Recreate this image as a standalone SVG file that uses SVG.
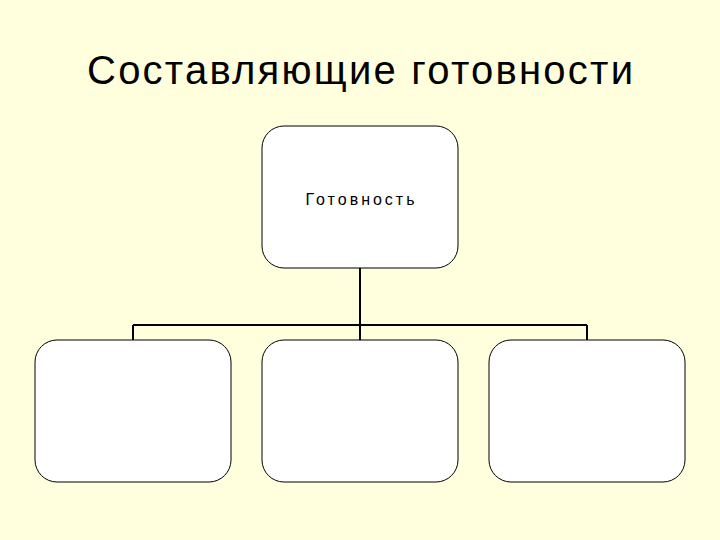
<svg xmlns="http://www.w3.org/2000/svg" width="720" height="540" viewBox="0 0 720 540">
<style>
.box{fill:#fff;stroke:#000;stroke-width:1}
.c{fill:none;stroke:#000;stroke-width:2}
text{font-family:"Liberation Sans",Arial,sans-serif;fill:#000}
</style>
<rect width="720" height="540" fill="#ffffdd"/>
<text x="360" y="84" font-size="40" text-anchor="middle" textLength="546" lengthAdjust="spacing">Составляющие готовности</text>
<g id="connectors">
<path class="c" d="M360 268V325M133 325H587M133 325V340M360 325V340M587 325V340"/>
</g>
<g id="root"><rect class="box" x="262" y="126" width="196" height="142" rx="22"/>
<text x="360" y="205" font-size="16" text-anchor="middle" textLength="109" lengthAdjust="spacing">Готовность</text></g>
<g id="n1"><rect class="box" x="35" y="340" width="196" height="142" rx="22"/></g>
<g id="n2"><rect class="box" x="262" y="340" width="196" height="142" rx="22"/></g>
<g id="n3"><rect class="box" x="489" y="340" width="196" height="142" rx="22"/></g>
</svg>
